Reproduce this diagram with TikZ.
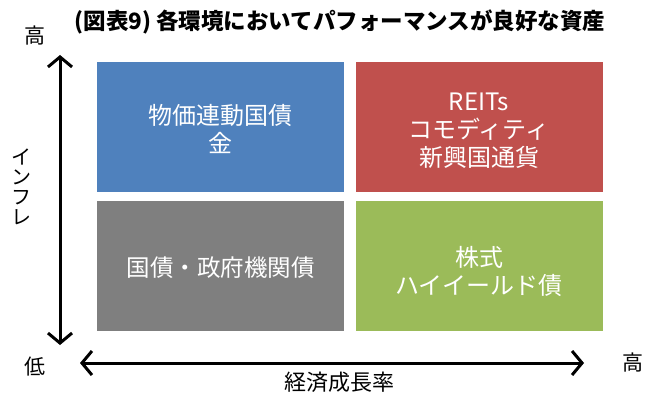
\documentclass[tikz,border=0pt]{standalone}
\usepackage{fontspec}
\usetikzlibrary{arrows.meta}
\newfontfamily\jp{Noto Sans CJK JP}
\definecolor{qblue}{HTML}{4F81BD}
\definecolor{qred}{HTML}{C0504D}
\definecolor{qgray}{HTML}{7F7F7F}
\definecolor{qgreen}{HTML}{9BBB59}
\begin{document}
\begin{tikzpicture}[x=1pt,y=-1pt,
  quad/.style={draw=none, minimum width=247pt, minimum height=130pt, inner sep=0pt},
  qtext/.style={text=white, align=center, font=\jp\fontsize{24}{28}\selectfont, inner sep=0pt},
  axlabel/.style={font=\jp\fontsize{21}{21}\selectfont, inner sep=0pt},
  axis/.style={line width=3pt, {Straight Barb[length=10pt,width=24pt,line width=3pt]}-{Straight Barb[length=10pt,width=24pt,line width=3pt]}}]
\useasboundingbox (0,0) rectangle (645,396);
\node[font=\jp\bfseries\fontsize{22.5}{26}\selectfont, inner sep=0pt] (title) at (340,22) {(図表9) 各環境においてパフォーマンスが良好な資産};
\node[quad, fill=qblue] (b1) at (220.5,127) {};
\node[quad, fill=qred] (b2) at (479,127) {};
\node[quad, fill=qgray] (b3) at (220.5,266) {};
\node[quad, fill=qgreen] (b4) at (479,266) {};
\node[qtext] (t1) at ([yshift=-2pt]b1.center) {物価連動国債\\金};
\node[qtext] (t2) at ([yshift=-4pt]b2.center) {REITs\\コモディティ\\新興国通貨};
\node[qtext, font=\jp\fontsize{23.5}{28}\selectfont] (t3) at ([yshift=-2pt]b3.center) {国債・政府機関債};
\node[qtext] (t4) at ([yshift=-5pt]b4.center) {株式\\ハイイールド債};
\coordinate (vt) at (60,55);
\coordinate (vb) at (60,345);
\coordinate (hl) at (80,363);
\coordinate (hr) at (584,363);
\draw[axis] (vt) -- (vb);
\draw[axis] (hl) -- (hr);
\node[axlabel] (hi1) at (35,36) {高};
\node[axlabel] (lo) at (35,367) {低};
\node[axlabel] (hi2) at (633,363) {高};
\node[axlabel, align=center, font=\jp\fontsize{20}{20}\selectfont] (infl) at (22,187) {イ\\ン\\フ\\レ};
\node[axlabel, font=\jp\fontsize{22}{22}\selectfont] (gdp) at (339,382) {経済成長率};
\end{tikzpicture}
\end{document}
